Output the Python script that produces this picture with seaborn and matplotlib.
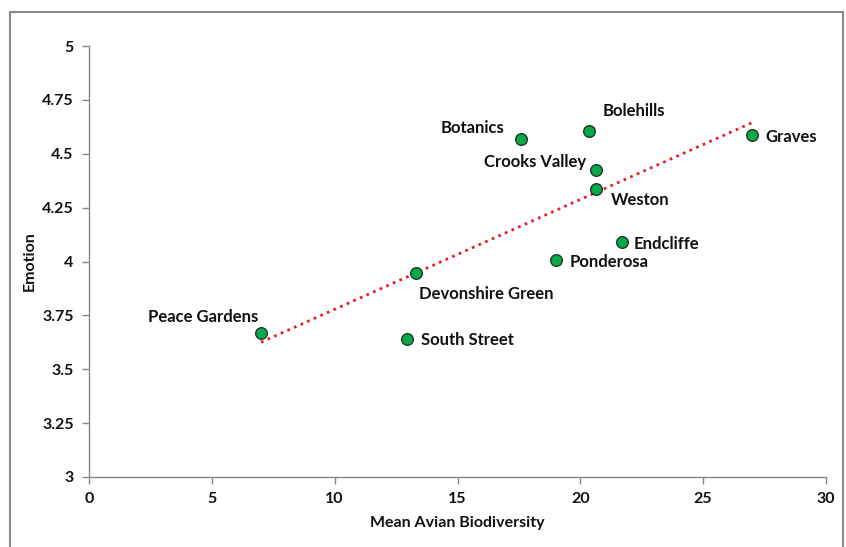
import matplotlib.pyplot as plt
import numpy as np
import pandas as pd
import seaborn as sns
from matplotlib.patches import Rectangle

# values
sites = ['Peace Gardens', 'South Street', 'Devonshire Green', 'Ponderosa', 'Botanics',
         'Bolehills', 'Crooks Valley', 'Weston', 'Endcliffe', 'Graves']
biodiversity = [7.0, 12.95, 13.3, 19.0, 17.6, 20.35, 20.65, 20.65, 21.7, 27.0]
emotion = [3.67, 3.64, 3.945, 4.005, 4.57, 4.605, 4.425, 4.335, 4.09, 4.585]

# label offsets in pixels (dx, dy, ha)
offsets = {
    'Peace Gardens': (-3, 16, 'right'),
    'South Street': (14, -1, 'left'),
    'Devonshire Green': (3, -21, 'left'),
    'Ponderosa': (14, -2, 'left'),
    'Botanics': (-17, 11, 'right'),
    'Bolehills': (14, 20, 'left'),
    'Crooks Valley': (-10, 8, 'right'),
    'Weston': (15, -11, 'left'),
    'Endcliffe': (12, -2, 'left'),
    'Graves': (13, -2, 'left'),
}

df = pd.DataFrame({'site': sites, 'x': biodiversity, 'y': emotion})

sns.set_style('white')
plt.rcParams['font.family'] = ['Lato', 'DejaVu Sans']
plt.rcParams['font.weight'] = 'bold'

fig = plt.figure(figsize=(8.46, 5.47), dpi=100)
ax = fig.add_axes([89 / 846, 1 - 477 / 547, 737 / 846, 431 / 547])

# linear trendline
k, b = np.polyfit(df['x'], df['y'], 1)
xs = np.array([df['x'].min(), df['x'].max()])
ax.plot(xs, k * xs + b, color='#e8202a', linestyle=(0, (1, 1.6)), linewidth=2, zorder=1)

sns.scatterplot(data=df, x='x', y='y', ax=ax, color='#0aa84a', edgecolor='#1c3a22',
                linewidth=1, s=70, zorder=3, legend=False)

for _, r in df.iterrows():
    dx, dy, ha = offsets[r['site']]
    ax.annotate(r['site'], (r['x'], r['y']), xytext=(dx, dy), textcoords='offset pixels',
                ha=ha, va='center', fontsize=12, fontweight='bold', color='#111111')

ax.set_xlim(0, 30)
ax.set_ylim(3, 5)
ax.set_xticks(range(0, 31, 5))
ax.set_yticks(np.arange(3, 5.01, 0.25))
ax.set_yticklabels(['3', '3.25', '3.5', '3.75', '4', '4.25', '4.5', '4.75', '5'])
ax.set_xlabel('Mean Avian Biodiversity', fontsize=11.5, fontweight='bold', labelpad=7,
              color='#111111')
ax.set_ylabel('Emotion', fontsize=11.5, fontweight='bold', labelpad=4, color='#111111')

for s in ['top', 'right']:
    ax.spines[s].set_visible(False)
for s in ['left', 'bottom']:
    ax.spines[s].set_color('#888888')
    ax.spines[s].set_linewidth(1)
ax.tick_params(direction='out', length=5, width=1, color='#888888', labelsize=11.5,
               labelcolor='#111111', left=True, bottom=True, pad=6)

# outer frame
fig.patches.append(Rectangle((10 / 846, -0.05), 833 / 846, 1.05 - 12 / 547,
                             transform=fig.transFigure, fill=False,
                             edgecolor='#8a8a8a', linewidth=1.5))

fig.savefig('out.png', dpi=100)
